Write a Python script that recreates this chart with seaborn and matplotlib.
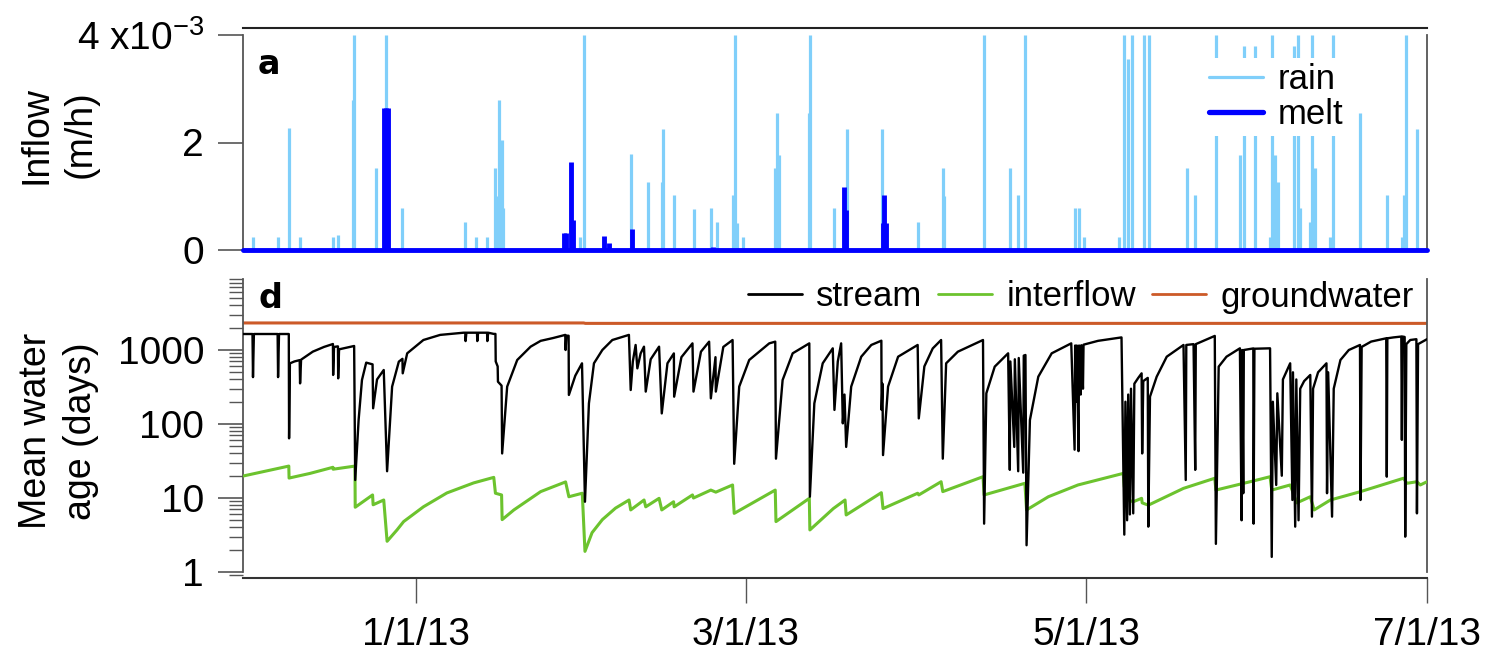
import numpy as np
import pandas as pd
import matplotlib
matplotlib.use("Agg")
import matplotlib.pyplot as plt
from matplotlib.lines import Line2D
from matplotlib.ticker import LogLocator, NullFormatter, FixedLocator
import seaborn as sns

# ---------------- data (days since 2012-12-01) ----------------
START = pd.Timestamp("2012-12-01")
END = pd.Timestamp("2013-07-01")

# rain inflow, 1e-3 m/h (clipped at 4 in the figure)
rain_day = [1.79, 6.28, 8.25, 10.22, 16.14, 17.04, 19.7, 19.9, 23.86, 25.65, 28.52,
            39.8, 41.8, 43.6, 45.2, 45.6, 45.9, 46.3, 46.6,
            60.4, 61.0, 69.4, 72.5, 75.0, 75.2, 77.1, 80.7, 83.8, 84.8, 87.7, 88.1,
            88.4, 89.5, 95.2, 95.4, 95.6, 96.0, 101.3, 101.6, 105.8, 108.2, 114.4,
            120.9, 125.4, 125.6, 132.7,
            137.4, 138.7, 140.1, 148.9, 149.6, 150.5, 156.8, 157.8, 158.4, 159.1,
            161.3, 162.2, 169.0, 170.4, 174.3, 178.5, 179.2, 181.2, 183.9, 184.2,
            184.8, 185.3, 188.2, 188.9, 189.3, 191.0, 191.4, 191.9, 194.6, 195.2,
            200.0, 204.8, 207.5, 207.9, 208.2, 210.2]
rain_val = [0.25, 0.25, 2.27, 0.25, 0.25, 0.27, 2.79, 4.0, 1.53, 4.0, 0.78,
            0.52, 0.25, 0.25, 1.53, 1.0, 2.79, 2.05, 0.78,
            0.25, 4.0, 1.78, 1.27, 1.27, 2.25, 1.02, 0.76, 0.78, 0.52, 1.02, 4.0,
            0.5, 0.25, 1.53, 0.78, 2.55, 1.77, 2.55, 4.0, 0.78, 2.25, 2.25,
            0.52, 1.53, 1.0, 4.0,
            1.53, 1.02, 4.0, 0.78, 0.78, 0.25, 0.25, 4.0, 3.55, 4.0,
            4.0, 4.0, 1.53, 1.02, 4.0, 1.77, 3.8, 3.8, 0.25, 4.0,
            1.77, 1.27, 3.8, 4.0, 0.78, 0.52, 4.0, 1.53, 0.25, 4.0,
            2.55, 1.02, 0.25, 1.02, 4.0, 2.25]

# snow melt inflow, 1e-3 m/h
melt_day = [25.3, 25.6, 25.9, 57.5, 57.9, 58.7, 59.0, 64.6, 65.6, 69.6, 84.1,
            107.6, 108.0, 114.6, 114.8, 115.2]
melt_val = [2.65, 2.65, 2.65, 0.31, 0.31, 1.64, 0.55, 0.26, 0.13, 0.39, 0.05,
            1.17, 0.74, 0.5, 1.02, 0.5]

# mean water age (days)
stream_day = [0, 1.7, 1.79, 1.95, 6.2, 6.28, 6.45, 8.2, 8.25, 8.4, 9.2, 10.15, 10.22, 10.4,
              12.5, 14.5, 16.1, 16.14, 16.3, 17.0, 17.04, 17.2, 19.9, 20.09, 20.7, 21.3,
              22.06, 23.2, 23.3, 24.0, 25.2, 25.8, 26.7, 27.9, 28.55, 28.6, 29.4, 32.3,
              35.3, 39.5, 39.8, 39.85, 40.0, 41.9, 41.95, 42.1, 43.7, 43.75, 43.9, 44.9,
              45.2, 45.25, 45.6, 45.65, 46.3, 46.4, 47.3, 49.1, 51.5, 53.3, 55.5, 57.7,
              57.76, 57.9, 58.3, 58.35, 59.5, 60.7, 61.23, 61.94, 62.84, 64.34, 66.13,
              69.1, 69.42, 69.8, 70.3, 70.61, 71.2, 71.8, 72.11, 73.0, 74.5, 74.98, 76.0,
              77.15, 77.2, 78.5, 80.48, 80.66, 82.0, 83.46, 83.77, 84.6, 84.66, 86.0,
              87.66, 87.95, 88.85, 90.64, 94.23, 95.3, 95.43, 96.62, 98.42, 101.4, 101.5,
              102.3, 103.8, 105.6, 105.9, 106.5, 107.1, 107.4, 107.7, 108.0, 108.9,
              110.7, 112.5, 114.3, 114.35, 114.5, 114.6, 115.5, 117.3, 120.8, 121.0,
              122.0, 123.5, 125.0, 125.3, 125.9, 128.0, 132.5, 132.7, 133.1, 134.6,
              137.0, 137.3, 137.4, 138.1, 138.2, 138.8, 138.9, 139.7, 139.8, 140.1,
              140.3, 140.9, 142.4, 144.8, 148.3, 148.9, 149.0, 149.2, 149.3, 149.6,
              149.7, 150.0, 150.1, 150.4, 150.5, 153.1, 157.3, 157.8, 158.0, 158.3,
              158.5, 158.8, 159.0, 159.4, 159.6, 160.3, 160.9, 161.0, 161.2, 162.0,
              162.1, 162.4, 163.6, 165.4, 168.4, 168.8, 168.9, 170.2, 170.5, 170.6,
              174.0, 174.2, 174.7, 176.1, 178.5, 178.8, 178.9, 179.1, 179.2, 180.9,
              180.95, 181.1, 183.9, 184.2, 184.4, 185.0, 185.2, 186.0, 186.2, 187.5,
              187.9, 188.0, 188.4, 188.6, 189.0, 189.3, 190.0, 191.1, 191.4, 191.6,
              192.5, 194.0, 194.1, 194.3, 195.0, 195.3, 196.5, 198.0, 200.0, 200.1,
              200.3, 202.0, 204.7, 204.8, 204.9, 206.0, 207.4, 207.5, 207.6, 208.0,
              208.1, 208.3, 209.0, 210.1, 210.2, 210.4, 212.0]
stream_age = [1645, 1645, 430, 1645, 1645, 430, 1645, 1645, 64, 660, 700, 730, 354, 740,
              950, 1100, 1205, 460, 1100, 1120, 414, 1021, 1133, 17.5, 113, 393,
              675, 640, 163, 400, 537, 23, 320, 696, 760, 484, 902, 1365,
              1600, 1713, 1713, 1320, 1713, 1713, 1320, 1713, 1713, 1320, 1713, 1650,
              1650, 700, 600, 373, 330, 40, 320, 733, 1110, 1330, 1450, 1600,
              1000, 1560, 1560, 247, 450, 661, 8.9, 190, 661, 1000, 1365,
              1600, 288, 700, 1170, 565, 900, 1110, 274, 750, 1110, 139, 661,
              900, 234, 800, 1230, 274, 950, 1296, 222, 800, 274, 1100,
              1365, 29, 320, 733, 1230, 1296, 34, 393, 902, 1230, 10.4,
              190, 661, 1054, 155, 700, 1230, 102, 250, 49, 320,
              812, 1170, 1336, 155, 350, 38, 320, 812, 1170, 119,
              600, 1050, 1365, 34, 661, 949, 1365, 4.5, 260, 596,
              902, 24, 700, 49, 750, 23, 780, 22, 840, 856,
              2.3, 113, 436, 902, 1230, 45, 1150, 200, 1150, 43,
              1150, 250, 1160, 300, 1180, 1330, 1480, 3.2, 200, 5,
              250, 6, 300, 6.2, 350, 420, 484, 40, 380, 420,
              4.1, 234, 436, 812, 1170, 17.5, 1170, 1200, 24, 1200,
              1550, 2.4, 596, 812, 1054, 5.0, 1000, 11.6, 1000, 1050,
              4.5, 1040, 1054, 1.6, 200, 15, 260, 20, 400, 661,
              9.4, 500, 4.1, 400, 5.0, 300, 380, 460, 5.6, 300,
              500, 661, 11.6, 500, 5.6, 300, 733, 1000, 1170, 9.4,
              1100, 1300, 1440, 19.4, 1440, 1480, 1520, 61, 1520, 1500,
              3.0, 1200, 1365, 1400, 6.2, 1200, 1400]

interflow_day = [0, 8.2, 8.25, 12, 16.1, 16.14, 20.05, 20.09, 23.2, 23.3, 25.2, 25.8,
                 27.57, 28.76, 32.3, 36.5, 41.3, 44.9, 45.2, 46.3, 46.4, 48.5, 53.3,
                 57.76, 58.35, 60.75, 61.23, 62.5, 64.34, 66.7, 69.12, 69.42, 71.81,
                 72.11, 74.5, 74.98, 77.1, 77.2, 80.48, 80.66, 83.77, 84.66, 87.66,
                 87.95, 95.3, 95.43, 101.4, 101.5, 105.7, 107.8, 108.0, 114.3, 114.6,
                 120.8, 121.0, 125.0, 125.3, 132.5, 132.7, 140.0, 140.3, 144.2, 149.5,
                 157.6, 157.8, 158.2, 158.5, 159.4, 160.9, 161.0, 162.1, 168.4, 174.0,
                 174.2, 180.9, 183.9, 184.2, 187.5, 188.7, 191.1, 191.8, 194.7, 200.1,
                 207.8, 208.4, 210.2, 210.8, 212.0]
interflow_age = [19.8, 27, 18.6, 21.5, 26, 24.5, 27, 7.5, 11, 8.1, 9.4, 2.6,
                 3.7, 4.8, 7.6, 11.7, 16, 19, 11.6, 11.0, 5.1, 6.9, 12.2,
                 16.5, 10.4, 11.6, 1.9, 3.4, 5.1, 7.3, 9.4, 6.9, 9.4,
                 7.6, 9.9, 6.9, 8.9, 7.6, 11.0, 10.0, 12.8, 12.0, 15,
                 6.2, 12.8, 4.8, 9.9, 3.7, 7.2, 9.4, 5.9, 11.8, 7.2,
                 11.6, 11.0, 16.6, 12.2, 19.4, 11, 15.8, 6.9, 10.4, 15,
                 21.5, 14.2, 11.6, 9.4, 8.9, 9.9, 8.6, 8.0, 13.5, 18.5,
                 12.8, 17.0, 19.4, 12.8, 15, 8.6, 10.4, 6.9, 9.4, 12.2,
                 18.5, 15.8, 16.6, 15, 16.6]

groundwater_day = [0, 61.0, 61.3, 212.0]
groundwater_age = [2320, 2320, 2290, 2290]

xtick_dates = ["2013-01-01", "2013-03-01", "2013-05-01", "2013-07-01"]
xtick_labels = ["1/1/13", "3/1/13", "5/1/13", "7/1/13"]
inflow_ticks = [0, 2e-3, 4e-3]
inflow_ticklabels = ["0", "2", r"4 x10$^{-3}$"]
age_ticks = [1, 10, 100, 1000]
age_ticklabels = ["1", "10", "100", "1000"]

# ---------------- style ----------------
sns.set_style("ticks")
plt.rcParams["font.family"] = ["Liberation Sans", "DejaVu Sans"]
plt.rcParams["mathtext.default"] = "regular"
plt.rcParams["text.color"] = "black"
plt.rcParams["axes.labelcolor"] = "black"

RAIN_C = "#80CFFA"
MELT_C = "#0000FF"
STREAM_C = "#000000"
INTER_C = "#6CC32E"
GW_C = "#CC5A28"
SPINE_C = "#555555"

W, H = 1489, 656
fig = plt.figure(figsize=(W / 100, H / 100), dpi=100)


def rect(l, t, r, b):
    return [l / W, 1 - b / H, (r - l) / W, (b - t) / H]


ax1 = fig.add_axes(rect(243, 28, 1427, 250))
ax2 = fig.add_axes(rect(243, 278, 1427, 578))

xmax = (END - START).days
xticks = [(pd.Timestamp(d) - START).days for d in xtick_dates]

# ---------------- panel a ----------------
rain_y = np.minimum(np.array(rain_val), 4.0) * 1e-3
ax1.vlines(rain_day, 0, rain_y, colors=RAIN_C, linewidth=2.3, zorder=2)
melt_df = pd.DataFrame({"day": [0] + melt_day + [xmax],
                        "inflow": [0] + [0] * len(melt_day) + [0]})
sns.lineplot(data=melt_df, x="day", y="inflow", color=MELT_C, linewidth=3.5,
             sort=True, estimator=None, ax=ax1, zorder=3, clip_on=False)
ax1.vlines(melt_day, 0, np.array(melt_val) * 1e-3, colors=MELT_C, linewidth=3.5, zorder=3)

ax1.set_xlim(0, xmax)
ax1.set_ylim(0, 4e-3 * 222 / 215)
ax1.set_yticks(inflow_ticks)
ax1.set_yticklabels(inflow_ticklabels)
ax1.set_xticks([])
ax1.set_xlabel("")
ax1.set_ylabel("Inflow\n(m/h)", fontsize=27, linespacing=1.3)
ax1.yaxis.set_label_coords(-0.122, 0.52)
ax1.tick_params(axis="y", direction="out", length=18, width=1.2, color=SPINE_C,
                labelcolor="black", labelsize=28, pad=10)
for s in ["left", "right"]:
    ax1.spines[s].set_visible(True)
    ax1.spines[s].set_color(SPINE_C)
    ax1.spines[s].set_linewidth(1.3)
    ax1.spines[s].set_bounds(0, 4e-3)
ax1.spines["top"].set_visible(True)
ax1.spines["top"].set_color("#222222")
ax1.spines["top"].set_linewidth(1.5)
ax1.spines["bottom"].set_visible(False)
ax1.text(0.012, 0.795, "a", transform=ax1.transAxes, fontsize=24, fontweight="bold",
         family="DejaVu Sans", va="baseline", ha="left", color="black")

h_rain = Line2D([], [], color=RAIN_C, linewidth=2.3)
h_melt = Line2D([], [], color=MELT_C, linewidth=3.8)
leg1 = ax1.legend([h_rain, h_melt], ["rain", "melt"], loc="center right",
                  bbox_to_anchor=(1366 / W, 1 - 97 / H), bbox_transform=fig.transFigure,
                  fontsize=25, frameon=True, framealpha=1, facecolor="white",
                  edgecolor="none", fancybox=False, borderpad=0.15, labelspacing=0.05,
                  handlelength=1.55, handletextpad=0.42)
leg1.set_zorder(10)

# ---------------- panel d ----------------
stream_df = pd.DataFrame({"day": stream_day, "age": stream_age})
inter_df = pd.DataFrame({"day": interflow_day, "age": interflow_age})
gw_df = pd.DataFrame({"day": groundwater_day, "age": groundwater_age})

sns.lineplot(data=gw_df, x="day", y="age", color=GW_C, linewidth=2.2, sort=False,
             estimator=None, ax=ax2, label="groundwater", zorder=2)
sns.lineplot(data=inter_df, x="day", y="age", color=INTER_C, linewidth=2.2, sort=False,
             estimator=None, ax=ax2, label="interflow", zorder=3)
sns.lineplot(data=stream_df, x="day", y="age", color=STREAM_C, linewidth=1.7, sort=False,
             estimator=None, ax=ax2, label="stream", zorder=4)

ax2.set_yscale("log")
ax2.set_xlim(0, xmax)
ax2.set_ylim(10 ** -0.081, 10 ** 3.973)
ax2.yaxis.set_major_locator(FixedLocator(age_ticks))
ax2.set_yticklabels(age_ticklabels)
ax2.yaxis.set_minor_locator(LogLocator(base=10, subs=np.arange(2, 10), numticks=20))
ax2.yaxis.set_minor_formatter(NullFormatter())
ax2.set_xticks(xticks)
ax2.set_xticklabels(xtick_labels)
ax2.set_xlabel("")
ax2.set_ylabel("Mean water\nage (days)", fontsize=27, linespacing=1.3)
ax2.yaxis.set_label_coords(-0.122, 0.49)
ax2.tick_params(axis="y", which="major", direction="out", length=18, width=1.2,
                color=SPINE_C, labelcolor="black", labelsize=28, pad=10)
ax2.tick_params(axis="y", which="minor", direction="out", length=10, width=1.0,
                color=SPINE_C)
ax2.tick_params(axis="x", which="major", direction="out", length=18, width=1.0,
                color=SPINE_C, labelcolor="black", labelsize=28, pad=10)
for s in ["left", "right"]:
    ax2.spines[s].set_visible(True)
    ax2.spines[s].set_color(SPINE_C)
    ax2.spines[s].set_linewidth(1.3)
    ax2.spines[s].set_bounds(1, 9000)
ax2.spines["top"].set_visible(False)
ax2.spines["bottom"].set_color("#333333")
ax2.spines["bottom"].set_linewidth(1.5)
ax2.text(0.013, 0.90, "d", transform=ax2.transAxes, fontsize=24, fontweight="bold",
         family="DejaVu Sans", va="baseline", ha="left", color="black")

handles, labels = ax2.get_legend_handles_labels()
order = [labels.index(n) for n in ["stream", "interflow", "groundwater"]]
leg2 = ax2.legend([handles[i] for i in order], [labels[i] for i in order],
                  loc="center right", bbox_to_anchor=(1431 / W, 1 - 297 / H),
                  bbox_transform=fig.transFigure, ncol=3, fontsize=25, frameon=False,
                  borderpad=0, handlelength=1.55, handletextpad=0.42, columnspacing=0.45)
for lh in leg2.get_lines():
    lh.set_linewidth(2.0)

fig.savefig("out.png", dpi=100)
